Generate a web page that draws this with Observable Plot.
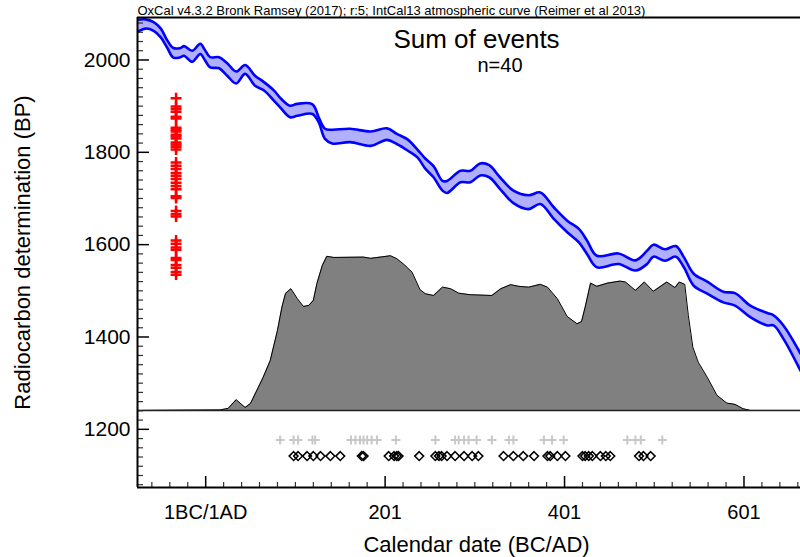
<!DOCTYPE html>
<html><head><meta charset="utf-8">
<script src="https://cdn.jsdelivr.net/npm/d3@7"></script>
<script src="https://cdn.jsdelivr.net/npm/@observablehq/plot@0.6"></script>
<style>
html,body{margin:0;padding:0;background:#fff;}
#chart svg{display:block;}
</style></head><body><div id="chart"></div>
<script>
// ---- Data ----
// Calibration curve IntCal13 (1-sigma band), calendar years AD (1 = 1BC/1AD)
const calYears = [-75,-66,-57,-49,-42,-35,-27,-23,-14,-5,0,6,16,25,35,45,56,66,77,85,95,103,120,127,134,142,162,185,203,214,226,237,246,255,265,270,285,296,307,317,329,344,361,374,389,404,417,426,437,461,480,493,500,513,525,534,545,560,578,591,608,627,634,645,664];
const calUpper = [2087,2088,2082,2068,2043,2026,2026,2030,2020,2035,2022,2006,2006,1993,1975,1989,1966,1952,1934,1916,1901,1905,1904,1876,1851,1849,1851,1845,1852,1840,1828,1806,1786,1770,1738,1738,1760,1760,1776,1772,1746,1717,1707,1713,1681,1652,1634,1609,1576,1581,1566,1587,1600,1590,1597,1573,1537,1520,1498,1495,1468,1452,1447,1425,1364];
const calLower = [2061,2068,2063,2049,2027,2005,2006,2009,1996,2013,2000,1984,1982,1966,1949,1970,1944,1934,1912,1895,1876,1879,1883,1865,1829,1819,1822,1814,1827,1818,1804,1789,1764,1746,1717,1712,1735,1735,1750,1746,1721,1690,1677,1688,1656,1627,1605,1580,1551,1558,1544,1558,1574,1565,1574,1551,1511,1494,1475,1468,1443,1425,1425,1396,1327];

// Sum of events: relative probability
const sumYears = [-75,17,26,35,45,51,65,73,81,86,90,96,103,110,116,121,125,131,136,144,177,185,207,214,222,231,240,246,255,265,274,283,296,320,330,341,350,361,374,382,393,404,415,420,424,430,437,449,463,469,480,490,500,515,524,529,535,539,544,550,560,571,582,591,600,608,664];
const sumProb = [0,0.003,0.013,0.069,0.019,0.045,0.213,0.323,0.517,0.668,0.756,0.787,0.724,0.672,0.679,0.711,0.821,0.937,0.996,0.989,0.991,0.983,1.0,0.981,0.944,0.894,0.780,0.754,0.743,0.797,0.787,0.758,0.748,0.743,0.787,0.813,0.802,0.797,0.815,0.797,0.722,0.607,0.560,0.575,0.668,0.823,0.802,0.823,0.836,0.830,0.776,0.830,0.770,0.830,0.794,0.830,0.815,0.614,0.409,0.312,0.215,0.097,0.047,0.039,0.011,0,0];

// 40 radiocarbon determinations (BP)
const dateBP = [1917,1899,1894,1888,1877,1873,1853,1849,1845,1838,1834,1830,1821,1817,1812,1806,1778,1771,1764,1755,1749,1742,1734,1727,1720,1705,1701,1673,1666,1661,1609,1602,1594,1589,1571,1567,1556,1550,1541,1535];

// Event markers along the bottom (calendar years AD)
const crossYears = [84,99,104,120,123,163,168,173,177,181,186,192,213,257,279,283,289,294,303,320,339,344,378,387,400,471,480,486,510];
const diamondYears = [99,104,114,121,129,140,151,175,177,205,211,214,216,239,257,261,264,270,279,289,298,305,333,344,355,367,382,385,393,402,421,424,428,432,441,447,452,484,489,497];

// Ticks and text
const xTickValues = [1, 201, 401, 601];
const xTickLabels = ["1BC/1AD", "201", "401", "601"];
const yTickValues = [1200, 1400, 1600, 1800, 2000];
const headerText = "OxCal v4.3.2 Bronk Ramsey (2017); r:5; IntCal13 atmospheric curve (Reimer et al 2013)";
const titleText = "Sum of events";
const countText = "n=40";
const xLabel = "Calendar date (BC/AD)";
const yLabel = "Radiocarbon determination (BP)";

// ---- Layout constants ----
const W = 800, H = 557;
const mL = 137, mR = 0, mT = 17, mB = 70;
const frameW = W - mL - mR, frameH = H - mT - mB;
const xDomain = [-75, 664];
const yDomain = [1074, 2092];
const dateColumnYear = -32;     // column of the red determinations
const distBase = 1241;          // baseline of the summed distribution (in BP scale units)
const distSpan = 335;           // height of the distribution maximum (in BP scale units)
const crossRowBP = 1177;
const diamondRowBP = 1142;

const cal = calYears.map((x, i) => ({x, hi: calUpper[i], lo: calLower[i]}));
const sum = sumYears.map((x, i) => ({x, p: sumProb[i]}));
const xMinor = d3.range(-60, 664, 20).filter(v => !xTickValues.includes(v + 1)).map(v => v + 1);
const yMinor = d3.range(1080, 2092, 20).filter(v => !yTickValues.includes(v));

const font = "'Liberation Sans', Arial, Helvetica, sans-serif";

const chart = Plot.plot({
  width: W, height: H,
  marginLeft: mL, marginRight: mR, marginTop: mT, marginBottom: mB,
  style: {fontFamily: font, background: "#fff", color: "#000", overflow: "visible"},
  x: {domain: xDomain, label: null},
  y: {domain: yDomain, label: null},
  marks: [
    // summed distribution
    Plot.areaY(sum, {x: "x", y1: () => distBase, y2: d => distBase + d.p * distSpan, fill: "#808080", clip: true}),
    Plot.lineY(sum, {x: "x", y: d => distBase + d.p * distSpan, stroke: "#000", strokeWidth: 1, clip: true}),
    Plot.ruleY([distBase], {stroke: "#222", strokeWidth: 1.5}),
    // calibration curve band
    Plot.areaY(cal, {x: "x", y1: "lo", y2: "hi", fill: "#b0b0ff", curve: "catmull-rom", clip: true}),
    Plot.lineY(cal, {x: "x", y: "hi", stroke: "#0000ff", strokeWidth: 2.6, curve: "catmull-rom", clip: true}),
    Plot.lineY(cal, {x: "x", y: "lo", stroke: "#0000ff", strokeWidth: 2.6, curve: "catmull-rom", clip: true}),
    // radiocarbon determinations
    Plot.dot(dateBP, {x: () => dateColumnYear, y: d => d, symbol: "plus", r: 3.6, stroke: "#ff0000", strokeWidth: 2.5}),
    // event markers
    Plot.dot(crossYears, {x: d => d, y: () => crossRowBP, symbol: "plus", r: 3, stroke: "#c8c8c8", strokeWidth: 2}),
    Plot.dot(diamondYears, {x: d => d, y: () => diamondRowBP, symbol: "diamond2", r: 4, stroke: "#000", strokeWidth: 1.5, fill: "none"}),
    // inward ticks
    Plot.ruleY(yTickValues, {insetRight: frameW - 12, stroke: "#000", strokeWidth: 1.5}),
    Plot.ruleY(yMinor, {insetRight: frameW - 6, stroke: "#333", strokeWidth: 1.2}),
    Plot.ruleX(xTickValues, {insetTop: frameH - 11, stroke: "#000", strokeWidth: 1.5}),
    Plot.ruleX(xMinor, {insetTop: frameH - 5, stroke: "#333", strokeWidth: 1.2}),
    // frame lines
    Plot.ruleX([xDomain[0]], {stroke: "#000", strokeWidth: 2}),
    Plot.ruleY([yDomain[0]], {stroke: "#000", strokeWidth: 2}),
    Plot.ruleY([yDomain[1]], {stroke: "#000", strokeWidth: 2}),
    // axes labels
    Plot.axisX({ticks: xTickValues, tickFormat: d => xTickLabels[xTickValues.indexOf(d)], tickSize: 0, tickPadding: 17, fontSize: 20, label: null}),
    Plot.axisY({ticks: yTickValues, tickFormat: d => String(d), tickSize: 0, tickPadding: 7, fontSize: 21, label: null}),
    // texts
    Plot.text([headerText], {frameAnchor: "top-left", textAnchor: "start", lineAnchor: "bottom", dy: -3, fontSize: 13}),
    Plot.text([titleText], {frameAnchor: "top", dx: 7.5, dy: 22, lineAnchor: "middle", fontSize: 26}),
    Plot.text([countText], {frameAnchor: "top", dx: 31, dy: 48.5, lineAnchor: "middle", fontSize: 20}),
    Plot.text([xLabel], {frameAnchor: "bottom", dx: 7.5, dy: 57, lineAnchor: "middle", fontSize: 22}),
    Plot.text([yLabel], {frameAnchor: "left", dx: -115, rotate: -90, textAnchor: "middle", lineAnchor: "middle", fontSize: 22})
  ]
});
document.getElementById("chart").append(chart);
</script></body></html>
